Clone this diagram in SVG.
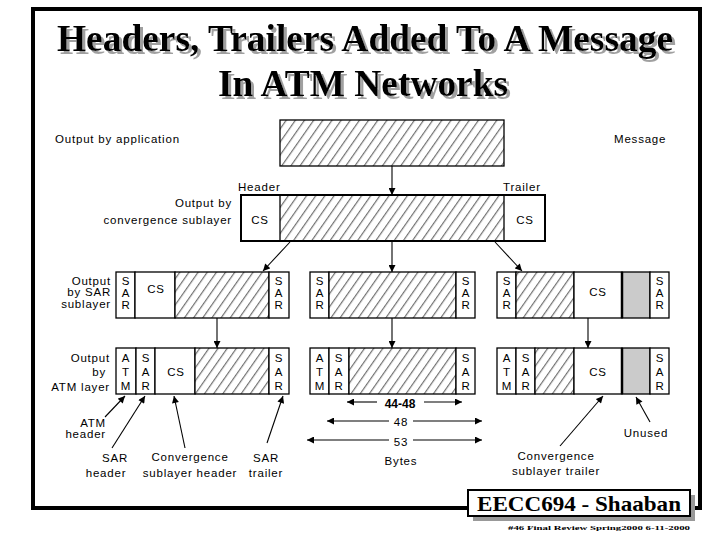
<svg xmlns="http://www.w3.org/2000/svg" width="720" height="540" viewBox="0 0 720 540">
<style>
.lbl{font-family:"Liberation Sans","DejaVu Sans",sans-serif;font-size:11.5px;letter-spacing:0.8px;fill:#000}
.c{text-anchor:middle}
.e{text-anchor:end}
.box{fill:#fff;stroke:#000;stroke-width:1.3}
.hat{fill:url(#hatch);stroke:#000;stroke-width:1.3}
.gray{fill:#cbcbcb;stroke:#000;stroke-width:1.3}
.ln{stroke:#000;stroke-width:1.1;fill:none}
.title{font-family:"Liberation Serif","Times New Roman",serif;font-weight:bold;font-size:38px;text-anchor:middle;fill:#000}
</style>
<defs>
<pattern id="hatch" patternUnits="userSpaceOnUse" width="7.5" height="9" patternTransform="rotate(35)">
<rect width="7.5" height="9" fill="#fff"/>
<line x1="3.5" y1="0" x2="3.5" y2="9" stroke="#222" stroke-width="0.8"/>
</pattern>
<filter id="shadow" x="-5%" y="-20%" width="110%" height="150%">
<feOffset in="SourceAlpha" dx="2.5" dy="2.5" result="off"/>
<feFlood flood-color="#a0a0a0"/>
<feComposite in2="off" operator="in" result="sh"/>
<feMerge><feMergeNode in="sh"/><feMergeNode in="SourceGraphic"/></feMerge>
</filter>
<marker id="ah" viewBox="0 0 10 10" refX="10" refY="5" markerWidth="8" markerHeight="7" markerUnits="userSpaceOnUse" orient="auto">
<path d="M0,0 L10,5 L0,10 z" fill="#000"/>
</marker>
</defs>
<rect width="720" height="540" fill="#fff"/>
<rect x="33" y="9" width="667" height="499" fill="none" stroke="#000" stroke-width="4"/>
<g id="title" filter="url(#shadow)">
<text class="title" x="365" y="51" textLength="616" lengthAdjust="spacingAndGlyphs">Headers, Trailers Added To A Message</text>
<text class="title" x="363" y="96" textLength="290" lengthAdjust="spacingAndGlyphs">In ATM Networks</text>
</g>
<g id="row-labels">
<text class="lbl" x="55" y="143">Output by application</text>
<text class="lbl" x="614" y="143" letter-spacing="1.6">Message</text>
<text class="lbl" x="238" y="191">Header</text>
<text class="lbl" x="503" y="191">Trailer</text>
<text class="lbl e" x="232" y="207">Output by</text>
<text class="lbl e" x="232" y="224">convergence sublayer</text>
<text class="lbl e" x="111" y="285">Output</text>
<text class="lbl e" x="111" y="296">by SAR</text>
<text class="lbl e" x="111" y="308">sublayer</text>
<text class="lbl e" x="110" y="362">Output</text>
<text class="lbl e" x="106" y="376">by</text>
<text class="lbl e" x="110" y="391">ATM layer</text>
</g>
<g id="message">
<rect class="hat" x="280" y="120" width="224" height="46"/>
</g>
<g id="cs-packet">
<rect class="box" x="241" y="195" width="304" height="46" stroke-width="2"/>
<rect class="hat" x="280" y="195" width="224" height="46"/>
<rect x="241" y="195" width="304" height="46" fill="none" stroke="#000" stroke-width="2"/>
<text class="lbl c" x="260" y="224">CS</text>
<text class="lbl c" x="525" y="224">CS</text>
</g>
<g id="sar-packet-1">
<rect class="box" x="116" y="272" width="19" height="46"/>
<rect class="box" x="135" y="272" width="40" height="46"/>
<rect class="hat" x="175" y="272" width="94" height="46"/>
<rect class="box" x="269" y="272" width="20" height="46"/>
<text class="lbl c" x="126" y="285">S</text><text class="lbl c" x="126" y="297">A</text><text class="lbl c" x="126" y="309">R</text>
<text class="lbl c" x="156" y="293" letter-spacing="2">CS</text>
<text class="lbl c" x="279" y="285">S</text><text class="lbl c" x="279" y="297">A</text><text class="lbl c" x="279" y="309">R</text>
</g>
<g id="sar-packet-2">
<rect class="box" x="310" y="272" width="19" height="46"/>
<rect class="hat" x="329" y="272" width="127" height="46"/>
<rect class="box" x="456" y="272" width="19" height="46"/>
<text class="lbl c" x="320" y="285">S</text><text class="lbl c" x="320" y="297">A</text><text class="lbl c" x="320" y="309">R</text>
<text class="lbl c" x="466" y="285">S</text><text class="lbl c" x="466" y="297">A</text><text class="lbl c" x="466" y="309">R</text>
</g>
<g id="sar-packet-3">
<rect class="box" x="497" y="272" width="19" height="46"/>
<rect class="hat" x="516" y="272" width="58" height="46"/>
<rect class="box" x="574" y="272" width="48" height="46"/>
<rect class="gray" x="622" y="272" width="28" height="46"/>
<line x1="622" y1="272" x2="622" y2="318" stroke="#000" stroke-width="2.5"/>
<rect class="box" x="650" y="272" width="19" height="46"/>
<text class="lbl c" x="507" y="285">S</text><text class="lbl c" x="507" y="297">A</text><text class="lbl c" x="507" y="309">R</text>
<text class="lbl c" x="598" y="296" letter-spacing="2">CS</text>
<text class="lbl c" x="660" y="285">S</text><text class="lbl c" x="660" y="297">A</text><text class="lbl c" x="660" y="309">R</text>
</g>
<g id="atm-cell-1">
<rect class="box" x="116" y="348" width="20" height="46"/>
<rect class="box" x="136" y="348" width="19" height="46"/>
<rect class="box" x="155" y="348" width="40" height="46"/>
<rect class="hat" x="195" y="348" width="74" height="46"/>
<rect class="box" x="269" y="348" width="20" height="46"/>
<text class="lbl c" x="126" y="362">A</text><text class="lbl c" x="126" y="376">T</text><text class="lbl c" x="126" y="390">M</text>
<text class="lbl c" x="146" y="362">S</text><text class="lbl c" x="146" y="376">A</text><text class="lbl c" x="146" y="390">R</text>
<text class="lbl c" x="176" y="376" letter-spacing="1.5">CS</text>
<text class="lbl c" x="279" y="362">S</text><text class="lbl c" x="279" y="376">A</text><text class="lbl c" x="279" y="390">R</text>
</g>
<g id="atm-cell-2">
<rect class="box" x="310" y="348" width="19" height="46"/>
<rect class="box" x="329" y="348" width="20" height="46"/>
<rect class="hat" x="349" y="348" width="107" height="46"/>
<rect class="box" x="456" y="348" width="19" height="46"/>
<text class="lbl c" x="320" y="362">A</text><text class="lbl c" x="320" y="376">T</text><text class="lbl c" x="320" y="390">M</text>
<text class="lbl c" x="339" y="362">S</text><text class="lbl c" x="339" y="376">A</text><text class="lbl c" x="339" y="390">R</text>
<text class="lbl c" x="466" y="362">S</text><text class="lbl c" x="466" y="376">A</text><text class="lbl c" x="466" y="390">R</text>
</g>
<g id="atm-cell-3">
<rect class="box" x="497" y="348" width="19" height="46"/>
<rect class="box" x="516" y="348" width="19" height="46"/>
<rect class="hat" x="535" y="348" width="39" height="46"/>
<rect class="box" x="574" y="348" width="48" height="46"/>
<rect class="gray" x="622" y="348" width="28" height="46"/>
<line x1="622" y1="348" x2="622" y2="394" stroke="#000" stroke-width="2.5"/>
<rect class="box" x="650" y="348" width="19" height="46"/>
<text class="lbl c" x="507" y="362">A</text><text class="lbl c" x="507" y="376">T</text><text class="lbl c" x="507" y="390">M</text>
<text class="lbl c" x="526" y="362">S</text><text class="lbl c" x="526" y="376">A</text><text class="lbl c" x="526" y="390">R</text>
<text class="lbl c" x="598" y="376" letter-spacing="2">CS</text>
<text class="lbl c" x="660" y="362">S</text><text class="lbl c" x="660" y="376">A</text><text class="lbl c" x="660" y="390">R</text>
</g>
<g id="annotations">
<text class="lbl e" x="106" y="427">ATM</text>
<text class="lbl e" x="106" y="438">header</text>
<text class="lbl c" x="115" y="462">SAR</text>
<text class="lbl c" x="106" y="477">header</text>
<text class="lbl c" x="190" y="461">Convergence</text>
<text class="lbl c" x="190" y="477">sublayer header</text>
<text class="lbl c" x="266" y="462">SAR</text>
<text class="lbl c" x="266" y="477">trailer</text>
<text class="lbl c" x="556" y="460">Convergence</text>
<text class="lbl c" x="556" y="475">sublayer trailer</text>
<text class="lbl c" x="646" y="437">Unused</text>
<text x="400" y="408" font-family="Liberation Sans,sans-serif" font-weight="bold" font-size="12" text-anchor="middle">44-48</text>
<text class="lbl c" x="401" y="426">48</text>
<text class="lbl c" x="401" y="446">53</text>
<text class="lbl c" x="401" y="465">Bytes</text>
</g>
<g id="connectors">
<line class="ln" x1="392" y1="166" x2="392" y2="195" marker-end="url(#ah)"/>
<line class="ln" x1="290" y1="242" x2="263" y2="271" marker-end="url(#ah)"/>
<line class="ln" x1="392" y1="242" x2="392" y2="272" marker-end="url(#ah)"/>
<line class="ln" x1="495" y1="242" x2="522" y2="271" marker-end="url(#ah)"/>
<line class="ln" x1="217" y1="318" x2="217" y2="348" marker-end="url(#ah)"/>
<line class="ln" x1="392" y1="318" x2="392" y2="348" marker-end="url(#ah)"/>
<line class="ln" x1="588" y1="318" x2="588" y2="348" marker-end="url(#ah)"/>
<line class="ln" x1="105" y1="417" x2="125" y2="396" marker-end="url(#ah)"/>
<line class="ln" x1="112" y1="448" x2="145" y2="396" marker-end="url(#ah)"/>
<line class="ln" x1="185" y1="448" x2="174" y2="396" marker-end="url(#ah)"/>
<line class="ln" x1="267" y1="443" x2="283" y2="396" marker-end="url(#ah)"/>
<line class="ln" x1="560" y1="446" x2="603" y2="396" marker-end="url(#ah)"/>
<line class="ln" x1="650" y1="422" x2="636" y2="397" marker-end="url(#ah)"/>
<line class="ln" x1="377" y1="402" x2="347" y2="402" marker-end="url(#ah)"/>
<line class="ln" x1="424" y1="402" x2="462" y2="402" marker-end="url(#ah)"/>
<line class="ln" x1="389" y1="421" x2="327" y2="421" marker-end="url(#ah)"/>
<line class="ln" x1="413" y1="421" x2="482" y2="421" marker-end="url(#ah)"/>
<line class="ln" x1="389" y1="440" x2="307" y2="440" stroke-width="2" marker-end="url(#ah)"/>
<line class="ln" x1="413" y1="440" x2="482" y2="440" stroke-width="2" marker-end="url(#ah)"/>
</g>
<g id="footer">
<rect x="473" y="495" width="222" height="26" fill="#999"/>
<rect x="468" y="490" width="222" height="26" fill="#fff" stroke="#000" stroke-width="2"/>
<text x="579" y="511" font-family="Liberation Serif,serif" font-weight="bold" font-size="22" text-anchor="middle" textLength="204" lengthAdjust="spacingAndGlyphs">EECC694 - Shaaban</text>
<text x="599" y="530" font-family="Liberation Serif,serif" font-weight="bold" font-size="7" text-anchor="middle" textLength="182" lengthAdjust="spacingAndGlyphs">#46  Final Review  Spring2000   6-11-2000</text>
</g>
</svg>
